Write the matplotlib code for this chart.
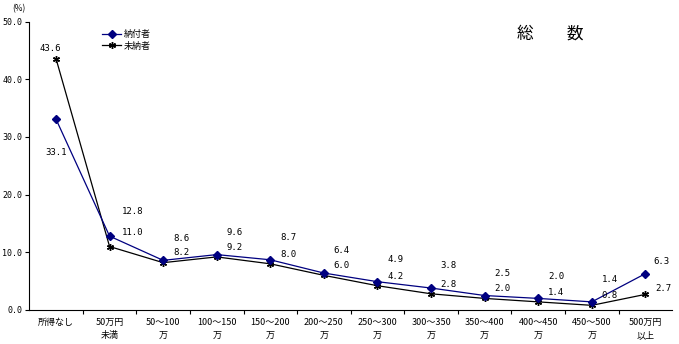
import matplotlib.pyplot as plt
from matplotlib.lines import Line2D

plt.rcParams['font.family'] = ['Noto Sans CJK JP', 'DejaVu Sans']

# データ
categories = ["所得なし", "50万円\n未満", "50～100\n万", "100～150\n万", "150～200\n万",
              "200～250\n万", "250～300\n万", "300～350\n万", "350～400\n万",
              "400～450\n万", "450～500\n万", "500万円\n以上"]
nofusha = [33.1, 12.8, 8.6, 9.6, 8.7, 6.4, 4.9, 3.8, 2.5, 2.0, 1.4, 6.3]
minofusha = [43.6, 11.0, 8.2, 9.2, 8.0, 6.0, 4.2, 2.8, 2.0, 1.4, 0.8, 2.7]
yticks = [0, 10, 20, 30, 40, 50]

# ラベル位置のずらし (points)
off_nofu = [(0, -24), (9, 18)] + [(7, 16)] * 9 + [(6, 9)]
off_mino = [(-4, 7), (9, 10)] + [(7, 7)] * 9 + [(7, 4)]

fig = plt.figure(figsize=(6.79, 3.44), dpi=100)
ax = fig.add_axes([0.043, 0.099, 0.947, 0.838])

x = list(range(len(categories)))
ax.plot(x, nofusha, color='#000080', lw=0.9, marker='D', ms=4,
        mfc='#000080', mec='#000080', zorder=3)
ax.plot(x, minofusha, color='black', lw=0.9, marker=(6, 2, 0), ms=5,
        mec='black', zorder=2)

for i in x:
    ax.annotate(f"{nofusha[i]:.1f}", (i, nofusha[i]), xytext=off_nofu[i],
                textcoords='offset points', ha='left' if i else 'center',
                va='center', fontsize=6.5, family='DejaVu Sans Mono')
    ax.annotate(f"{minofusha[i]:.1f}", (i, minofusha[i]), xytext=off_mino[i],
                textcoords='offset points', ha='left' if i else 'center',
                va='center', fontsize=6.5, family='DejaVu Sans Mono')

ax.set_xlim(-0.5, len(categories) - 0.5)
ax.set_ylim(0, 50)
ax.set_yticks(yticks)
ax.set_yticklabels([f"{v:.1f}" for v in yticks], fontsize=6, family='DejaVu Sans Mono')
ax.set_xticks([i + 0.5 for i in x[:-1]])
ax.set_xticklabels([])
ax.set_xticks(x, minor=True)
ax.set_xticklabels(categories, minor=True, fontsize=6.5, linespacing=1.6)
ax.tick_params(axis='x', which='minor', length=0, pad=6)
ax.tick_params(axis='x', which='major', length=3, direction='out')
ax.tick_params(axis='y', length=3, direction='out', pad=2)
for s in ['top', 'right']:
    ax.spines[s].set_visible(False)

fig.text(0.028, 0.975, "(%)", fontsize=6, ha='center', va='center')
fig.text(0.811, 0.902, "総　　数", fontsize=12, ha='center', va='center')

handles = [Line2D([], [], color='#000080', lw=0.9, marker='D', ms=4),
           Line2D([], [], color='black', lw=0.9, marker=(6, 2, 0), ms=5)]
ax.legend(handles, ["納付者", "未納者"], loc='upper left', bbox_to_anchor=(0.1, 1.0),
          frameon=False, fontsize=6.5, handlelength=2.2, handletextpad=0.3,
          labelspacing=0.3)

plt.savefig("out.png", dpi=100)
